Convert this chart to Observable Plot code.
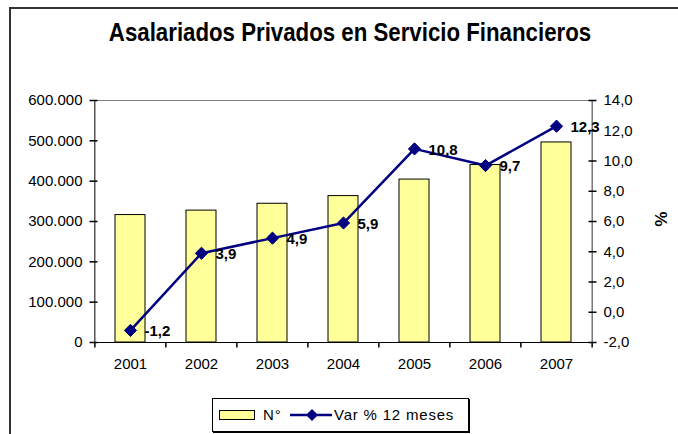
<!DOCTYPE html>
<html>
<head>
<meta charset="utf-8">
<script src="https://cdn.jsdelivr.net/npm/d3@7"></script>
<script src="https://cdn.jsdelivr.net/npm/@observablehq/plot@0.6"></script>
<style>
  html, body { margin: 0; padding: 0; background: #fff; }
  #wrap { position: relative; width: 678px; height: 434px; overflow: hidden; background: #fff;
          font-family: "Liberation Sans", Arial, sans-serif; color: #000; }
  #btop { position: absolute; left: 9px; top: 7px; width: 669px; height: 2px; background: #333; z-index: 5; }
  #bleft { position: absolute; left: 9px; top: 7px; width: 2px; height: 440px; background: #333; z-index: 5; }
  #title { position: absolute; left: 350px; top: 18px; font-size: 25px; font-weight: bold; white-space: nowrap;
           transform: translateX(-50%) scaleX(0.89); transform-origin: center; }
  #chart { position: absolute; left: 0; top: 80px; }
  #pct { position: absolute; left: 660px; top: 219px; font-size: 17px; font-weight: bold;
         transform: translate(-50%, -50%) rotate(90deg); }
  #legend { position: absolute; left: 212px; top: 398px; width: 255px; height: 32px; border: 1px solid #000;
            box-shadow: 1px 1px 0 #000; background: #fff; font-size: 15px; letter-spacing: 0.8px; }
  #legend .item { position: absolute; top: 0; height: 32px; line-height: 32px; white-space: nowrap; }
</style>
</head>
<body>
<div id="wrap">
  <div id="title">Asalariados Privados en Servicio Financieros</div>
  <div id="chart"></div>
  <div id="pct">%</div>
  <div id="legend"></div>
  <div id="btop"></div>
  <div id="bleft"></div>
</div>
<script>
// ---- data ----
const years = ["2001", "2002", "2003", "2004", "2005", "2006", "2007"];
const workers = [316000, 327000, 344000, 363000, 404000, 440000, 496000];
const varPct = [-1.2, 3.9, 4.9, 5.9, 10.8, 9.7, 12.3];
const leftTicks = [0, 100000, 200000, 300000, 400000, 500000, 600000];
const rightTicks = [-2, 0, 2, 4, 6, 8, 10, 12, 14];
const seriesNames = ["N°", "Var % 12 meses"];

// ---- helpers ----
const loc = d3.formatLocale({decimal: ",", thousands: ".", grouping: [3], currency: ["", ""], minus: "-"});
const fmtN = loc.format(",");
const fmtP = loc.format(".1f");
const yMax = leftTicks[leftTicks.length - 1];
const pMin = rightTicks[0], pMax = rightTicks[rightTicks.length - 1];
const toY = p => (p - pMin) / (pMax - pMin) * yMax;
const fromY = v => v / yMax * (pMax - pMin) + pMin;

const data = years.map((year, i) => ({year, n: workers[i], pct: varPct[i]}));

const W = 678, H = 300, mL = 93, mR = 86, mT = 20, mB = 38;
const step = (W - mL - mR) / years.length;

const hTick = {draw(ctx) { ctx.moveTo(-4, 0); ctx.lineTo(4, 0); }};
const vTick = {draw(ctx) { ctx.moveTo(0, 0); ctx.lineTo(0, 5); }};
const navy = "#000080";

const chart = Plot.plot({
  width: W, height: H,
  marginLeft: mL, marginRight: mR, marginTop: mT, marginBottom: mB,
  style: {fontFamily: "'Liberation Sans', Arial, sans-serif", fontSize: "15px", color: "#000", background: "transparent"},
  x: {type: "band", domain: years, paddingInner: 0.58, paddingOuter: 0.29, label: null},
  y: {domain: [0, yMax], label: null},
  marks: [
    Plot.ruleY([yMax], {stroke: "#808080", strokeWidth: 1}),
    Plot.barY(data, {x: "year", y: "n", fill: "#FFFF99", stroke: "#000", strokeWidth: 1}),
    Plot.ruleY([0], {stroke: "#000"}),
    Plot.ruleX([years[0]], {x: d => d, dx: -step / 2, y1: 0, y2: yMax, stroke: "#000"}),
    Plot.ruleX([years[years.length - 1]], {x: d => d, dx: step / 2, y1: 0, y2: yMax, stroke: "#333"}),
    // boundary ticks on x axis
    Plot.dot(years, {x: d => d, y: () => 0, dx: -step / 2, symbol: vTick, stroke: "#000", fill: "none"}),
    Plot.dot([years[years.length - 1]], {x: d => d, y: () => 0, dx: step / 2, symbol: vTick, stroke: "#000", fill: "none"}),
    // left axis
    Plot.dot(leftTicks, {y: d => d, frameAnchor: "left", symbol: hTick, stroke: "#000", fill: "none"}),
    Plot.axisY({anchor: "left", ticks: leftTicks, tickFormat: fmtN, tickSize: 0, tickPadding: 11, label: null}),
    // right axis
    Plot.dot(rightTicks, {y: d => toY(d), frameAnchor: "right", symbol: hTick, stroke: "#000", fill: "none"}),
    Plot.axisY({anchor: "right", ticks: rightTicks.map(toY), tickFormat: v => fmtP(fromY(v)), tickSize: 0, tickPadding: 11, label: null}),
    // x axis labels
    Plot.axisX({tickSize: 0, tickPadding: 16, label: null}),
    // line series
    Plot.line(data, {x: "year", y: d => toY(d.pct), stroke: navy, strokeWidth: 2.5}),
    Plot.dot(data, {x: "year", y: d => toY(d.pct), symbol: "diamond2", r: 5.5, fill: navy, stroke: navy, strokeWidth: 1}),
    Plot.text(data, {x: "year", y: d => toY(d.pct), text: d => fmtP(d.pct), dx: 14, dy: 1, textAnchor: "start",
                     fontWeight: "bold", fontSize: 15, fill: "#000"})
  ]
});
document.getElementById("chart").appendChild(chart);

// legend
const legend = document.getElementById("legend");
legend.innerHTML = `
  <div class="item" style="left:6px;"><svg width="37" height="32" style="vertical-align:top"><rect x="0.5" y="11.5" width="35" height="9" fill="#FFFF99" stroke="#000"/></svg></div>
  <div class="item" style="left:50px;">${seriesNames[0]}</div>
  <div class="item" style="left:77px;"><svg width="44" height="32" style="vertical-align:top"><line x1="0" y1="16" x2="42" y2="16" stroke="${navy}" stroke-width="2.5"/><path d="M22,10 L28,16 L22,22 L16,16 Z" fill="${navy}"/></svg></div>
  <div class="item" style="left:121px;">${seriesNames[1]}</div>`;
</script>
</body>
</html>
